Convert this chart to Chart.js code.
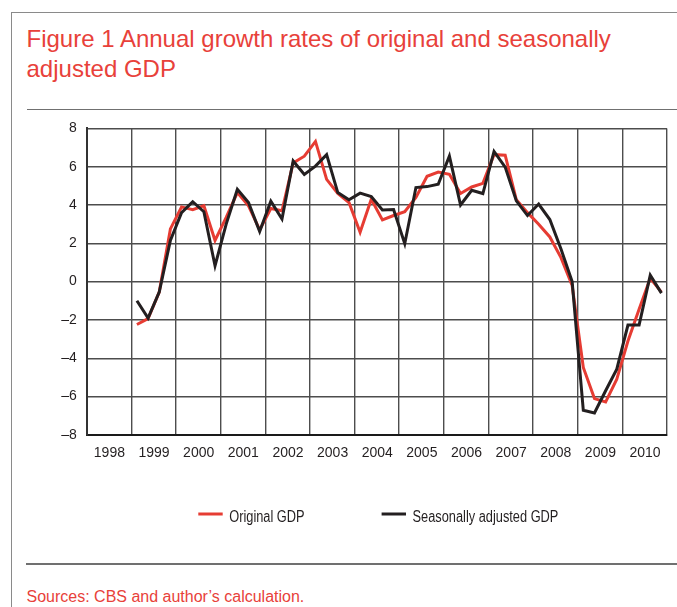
<!DOCTYPE html>
<html>
<head>
<meta charset="utf-8">
<script src="https://cdn.jsdelivr.net/npm/chart.js@4.4.1/dist/chart.umd.min.js"></script>
<style>
  html, body { margin: 0; padding: 0; width: 677px; height: 607px; overflow: hidden; background: #fff; }
  .rule { position: absolute; background: #8a8a8a; }
  #title {
    position: absolute; left: 26.5px; top: 23.5px;
    font-family: "Liberation Sans", Arial, sans-serif; font-size: 24px;
    line-height: 30px; color: #e8413a; white-space: nowrap;
  }
  #source {
    position: absolute; left: 26.5px; top: 587px;
    font-family: "Liberation Sans", Arial, sans-serif; font-size: 16px; line-height: 20px;
    color: #e8413a; white-space: nowrap;
  }
  #wrap { position: absolute; left: 0; top: 110px; width: 677px; height: 450px; }
</style>
</head>
<body>
<div class="rule" style="left:10.5px;top:12px;width:1.4px;height:600px;"></div>
<div class="rule" style="left:10.5px;top:12px;width:667px;height:1.4px;"></div>
<div class="rule" style="left:26.5px;top:108.5px;width:651px;height:1.5px;background:#707070;"></div>
<div class="rule" style="left:26px;top:563px;width:651px;height:1.5px;background:#707070;"></div>
<div id="title">Figure 1 Annual growth rates of original and seasonally<br>adjusted GDP</div>
<div id="wrap"><canvas id="chart" width="677" height="450"></canvas></div>
<div id="source">Sources: CBS and author’s calculation.</div>
<script>
// ---- data ----
const yearLabels = ['1998','1999','2000','2001','2002','2003','2004','2005','2006','2007','2008','2009','2010'];
const quarterLabels = [
  '1999 Q1','1999 Q2','1999 Q3','1999 Q4',
  '2000 Q1','2000 Q2','2000 Q3','2000 Q4',
  '2001 Q1','2001 Q2','2001 Q3','2001 Q4',
  '2002 Q1','2002 Q2','2002 Q3','2002 Q4',
  '2003 Q1','2003 Q2','2003 Q3','2003 Q4',
  '2004 Q1','2004 Q2','2004 Q3','2004 Q4',
  '2005 Q1','2005 Q2','2005 Q3','2005 Q4',
  '2006 Q1','2006 Q2','2006 Q3','2006 Q4',
  '2007 Q1','2007 Q2','2007 Q3','2007 Q4',
  '2008 Q1','2008 Q2','2008 Q3','2008 Q4',
  '2009 Q1','2009 Q2','2009 Q3','2009 Q4',
  '2010 Q1','2010 Q2','2010 Q3','2010 Q4'
];
const originalGDP = [
  -2.24, -1.93, -0.55, 2.75,
  3.90, 3.76, 3.96, 2.15,
  3.35, 4.65, 3.96, 2.70,
  3.82, 3.70, 6.20, 6.55,
  7.32, 5.34, 4.60, 4.13,
  2.58, 4.30, 3.22, 3.45,
  3.65, 4.40, 5.50, 5.72,
  5.60, 4.60, 4.94, 5.13,
  6.63, 6.60, 4.27, 3.60,
  3.00, 2.33, 1.25, -0.20,
  -4.48, -6.11, -6.29, -5.10,
  -3.10, -1.45, 0.17, -0.55
];
const seasonallyAdjustedGDP = [
  -1.00, -1.90, -0.55, 2.15,
  3.60, 4.17, 3.65, 0.83,
  3.00, 4.82, 4.13, 2.62,
  4.20, 3.27, 6.30, 5.60,
  6.03, 6.63, 4.65, 4.27,
  4.62, 4.44, 3.74, 3.76,
  1.98, 4.91, 4.96, 5.08,
  6.55, 4.00, 4.77, 4.60,
  6.80, 5.98, 4.22, 3.45,
  4.05, 3.24, 1.70, 0.00,
  -6.72, -6.86, -5.70, -4.57,
  -2.27, -2.27, 0.34, -0.60
];
const yTickValues = [-8, -6, -4, -2, 0, 2, 4, 6, 8];

// quarter label -> position on the linear time axis (mid-quarter)
function quarterPos(lbl) {
  const [y, q] = lbl.split(' ');
  return Number(y) + (Number(q.slice(1)) - 0.5) / 4;
}
function toPoints(values) {
  return values.map((v, i) => ({ x: quarterPos(quarterLabels[i]), y: v }));
}

const SANS = '"Liberation Sans", Arial, sans-serif';
const TEXT = '#231f20';
const GRID = '#4d4d4d';

// legend drawn as short line samples with condensed text (Arial Narrow look)
const lineLegend = {
  id: 'lineLegend',
  afterDraw(chart) {
    const ctx = chart.ctx, area = chart.chartArea;
    const squeeze = 0.8;
    ctx.save();
    ctx.font = '16px ' + SANS;
    const items = chart.data.datasets.map(d => ({ label: d.label, color: d.borderColor, w: ctx.measureText(d.label).width * squeeze }));
    const sample = 24.4, gapText = 6.5, gapItem = 77;
    let x = area.left + 111.6;
    const yLine = area.bottom + 79.2, yText = area.bottom + 87.5;
    items.forEach(it => {
      ctx.strokeStyle = it.color; ctx.lineWidth = 3; ctx.lineCap = 'butt';
      ctx.beginPath(); ctx.moveTo(x, yLine); ctx.lineTo(x + sample, yLine); ctx.stroke();
      ctx.save();
      ctx.translate(x + sample + gapText, yText);
      ctx.scale(squeeze, 1);
      ctx.fillStyle = TEXT; ctx.textBaseline = 'alphabetic'; ctx.textAlign = 'left';
      ctx.fillText(it.label, 0, 0);
      ctx.restore();
      x += sample + gapText + it.w + gapItem;
    });
    ctx.restore();
  }
};

new Chart(document.getElementById('chart'), {
  type: 'line',
  data: {
    datasets: [
      { label: 'Original GDP', data: toPoints(originalGDP), borderColor: '#e63c33', borderWidth: 3,
        pointRadius: 0, tension: 0, order: 2 },
      { label: 'Seasonally adjusted GDP', data: toPoints(seasonallyAdjustedGDP), borderColor: '#231f20', borderWidth: 3,
        pointRadius: 0, tension: 0, order: 1 }
    ]
  },
  options: {
    responsive: false,
    animation: false,
    layout: { padding: { left: 0, right: 0.5, top: 15.2, bottom: 85.2 } },
    plugins: { legend: { display: false }, tooltip: { enabled: false }, title: { display: false } },
    scales: {
      x: {
        type: 'linear', min: 1998, max: 2011,
        afterBuildTicks: s => { s.ticks = yearLabels.map(Number).concat([2011]).map(v => ({ value: v })); },
        afterFit: s => { s.height = 40; },
        grid: { color: GRID, lineWidth: 1.4, drawTicks: false },
        border: { color: '#1a1a1a', width: 2 },
        ticks: {
          autoSkip: false, maxRotation: 0, padding: 10, labelOffset: 22.7, color: TEXT,
          font: { family: SANS, size: 14 },
          callback: (v, i) => (yearLabels[i] !== undefined ? yearLabels[i] : '')
        }
      },
      y: {
        min: -8, max: 8,
        afterBuildTicks: s => { s.ticks = yTickValues.map(v => ({ value: v })); },
        afterFit: s => { s.width = 86.7; },
        grid: { color: GRID, lineWidth: 1.4, drawTicks: false },
        border: { color: '#333', width: 2 },
        ticks: {
          padding: 10, color: TEXT, font: { family: SANS, size: 14 },
          callback: v => (v < 0 ? '\u2013' + Math.abs(v) : String(v))
        }
      }
    }
  },
  plugins: [lineLegend]
});
</script>
</body>
</html>
